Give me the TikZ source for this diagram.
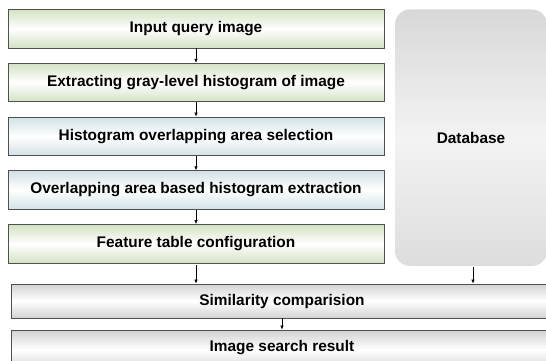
\documentclass[tikz,border=0pt]{standalone}
\usepackage{fontspec}
\setmainfont{Liberation Sans}
\usetikzlibrary{arrows.meta}
\definecolor{grnedge}{HTML}{D3E2C3}
\definecolor{bluedge}{HTML}{D2E1E6}
\definecolor{gryedge}{HTML}{D2D2D2}
\definecolor{bordc}{HTML}{505050}
\definecolor{dbtop}{HTML}{D8D8D8}
\definecolor{dbmid}{HTML}{F3F3F3}
\definecolor{dbbot}{HTML}{DDDDDD}
\tikzset{
  lbl/.style={font=\fontsize{15.4}{17}\selectfont\bfseries},
  box/.style={lbl, draw=bordc, line width=0.9pt, minimum width=376pt, minimum height=38.5pt,
    inner sep=0pt},
  grnbox/.style={box, top color=grnedge, bottom color=grnedge, middle color=white},
  blubox/.style={box, top color=bluedge, bottom color=bluedge, middle color=white},
  grybox/.style={box, top color=gryedge, bottom color=gryedge, middle color=white},
  arr/.style={line width=0.6pt, -{Latex[length=4pt,width=3.6pt]}}
}
\begin{document}
\begin{tikzpicture}[x=1pt,y=-1pt]
\useasboundingbox (0,0) rectangle (546,361);
\node[grnbox] (b1) at (196,28.75) {Input query image};
\node[grnbox] (b2) at (196,82.5) {Extracting gray-level histogram of image};
\node[blubox] (b3) at (196,136.25) {Histogram overlapping area selection};
\node[blubox] (b4) at (196,190) {Overlapping area based histogram extraction};
\node[grnbox] (b5) at (196,243.75) {Feature table configuration};
\node[grybox, minimum width=545pt, minimum height=34pt] (sim) at (283.5,301) {};
\node[lbl] (simt) at (282,302) {Similarity comparision};
\node[grybox, minimum width=545pt, minimum height=40pt] (res) at (283.5,350) {};
\node[lbl] (rest) at (282,348) {Image search result};
\node[lbl, rounded corners=15pt, minimum width=152pt, minimum height=256.5pt, inner sep=0pt,
  top color=dbtop, bottom color=dbbot, middle color=dbmid] (db) at (471,137.75) {Database};
\draw[arr] (b1.south) -- (b2.north);
\draw[arr] (b2.south) -- (b3.north);
\draw[arr] (b3.south) -- (b4.north);
\draw[arr] (b4.south) -- (b5.north);
\coordinate (c5) at ([yshift=-2pt]b5.south);
\draw[arr] (c5) -- (c5 |- sim.north);
\coordinate (cd) at ([xshift=2pt,yshift=-1pt]db.south);
\draw[arr] (cd) -- (cd |- sim.north);
\coordinate (cs) at (282,318);
\draw[arr] (cs) -- (cs |- res.north);
\end{tikzpicture}
\end{document}
